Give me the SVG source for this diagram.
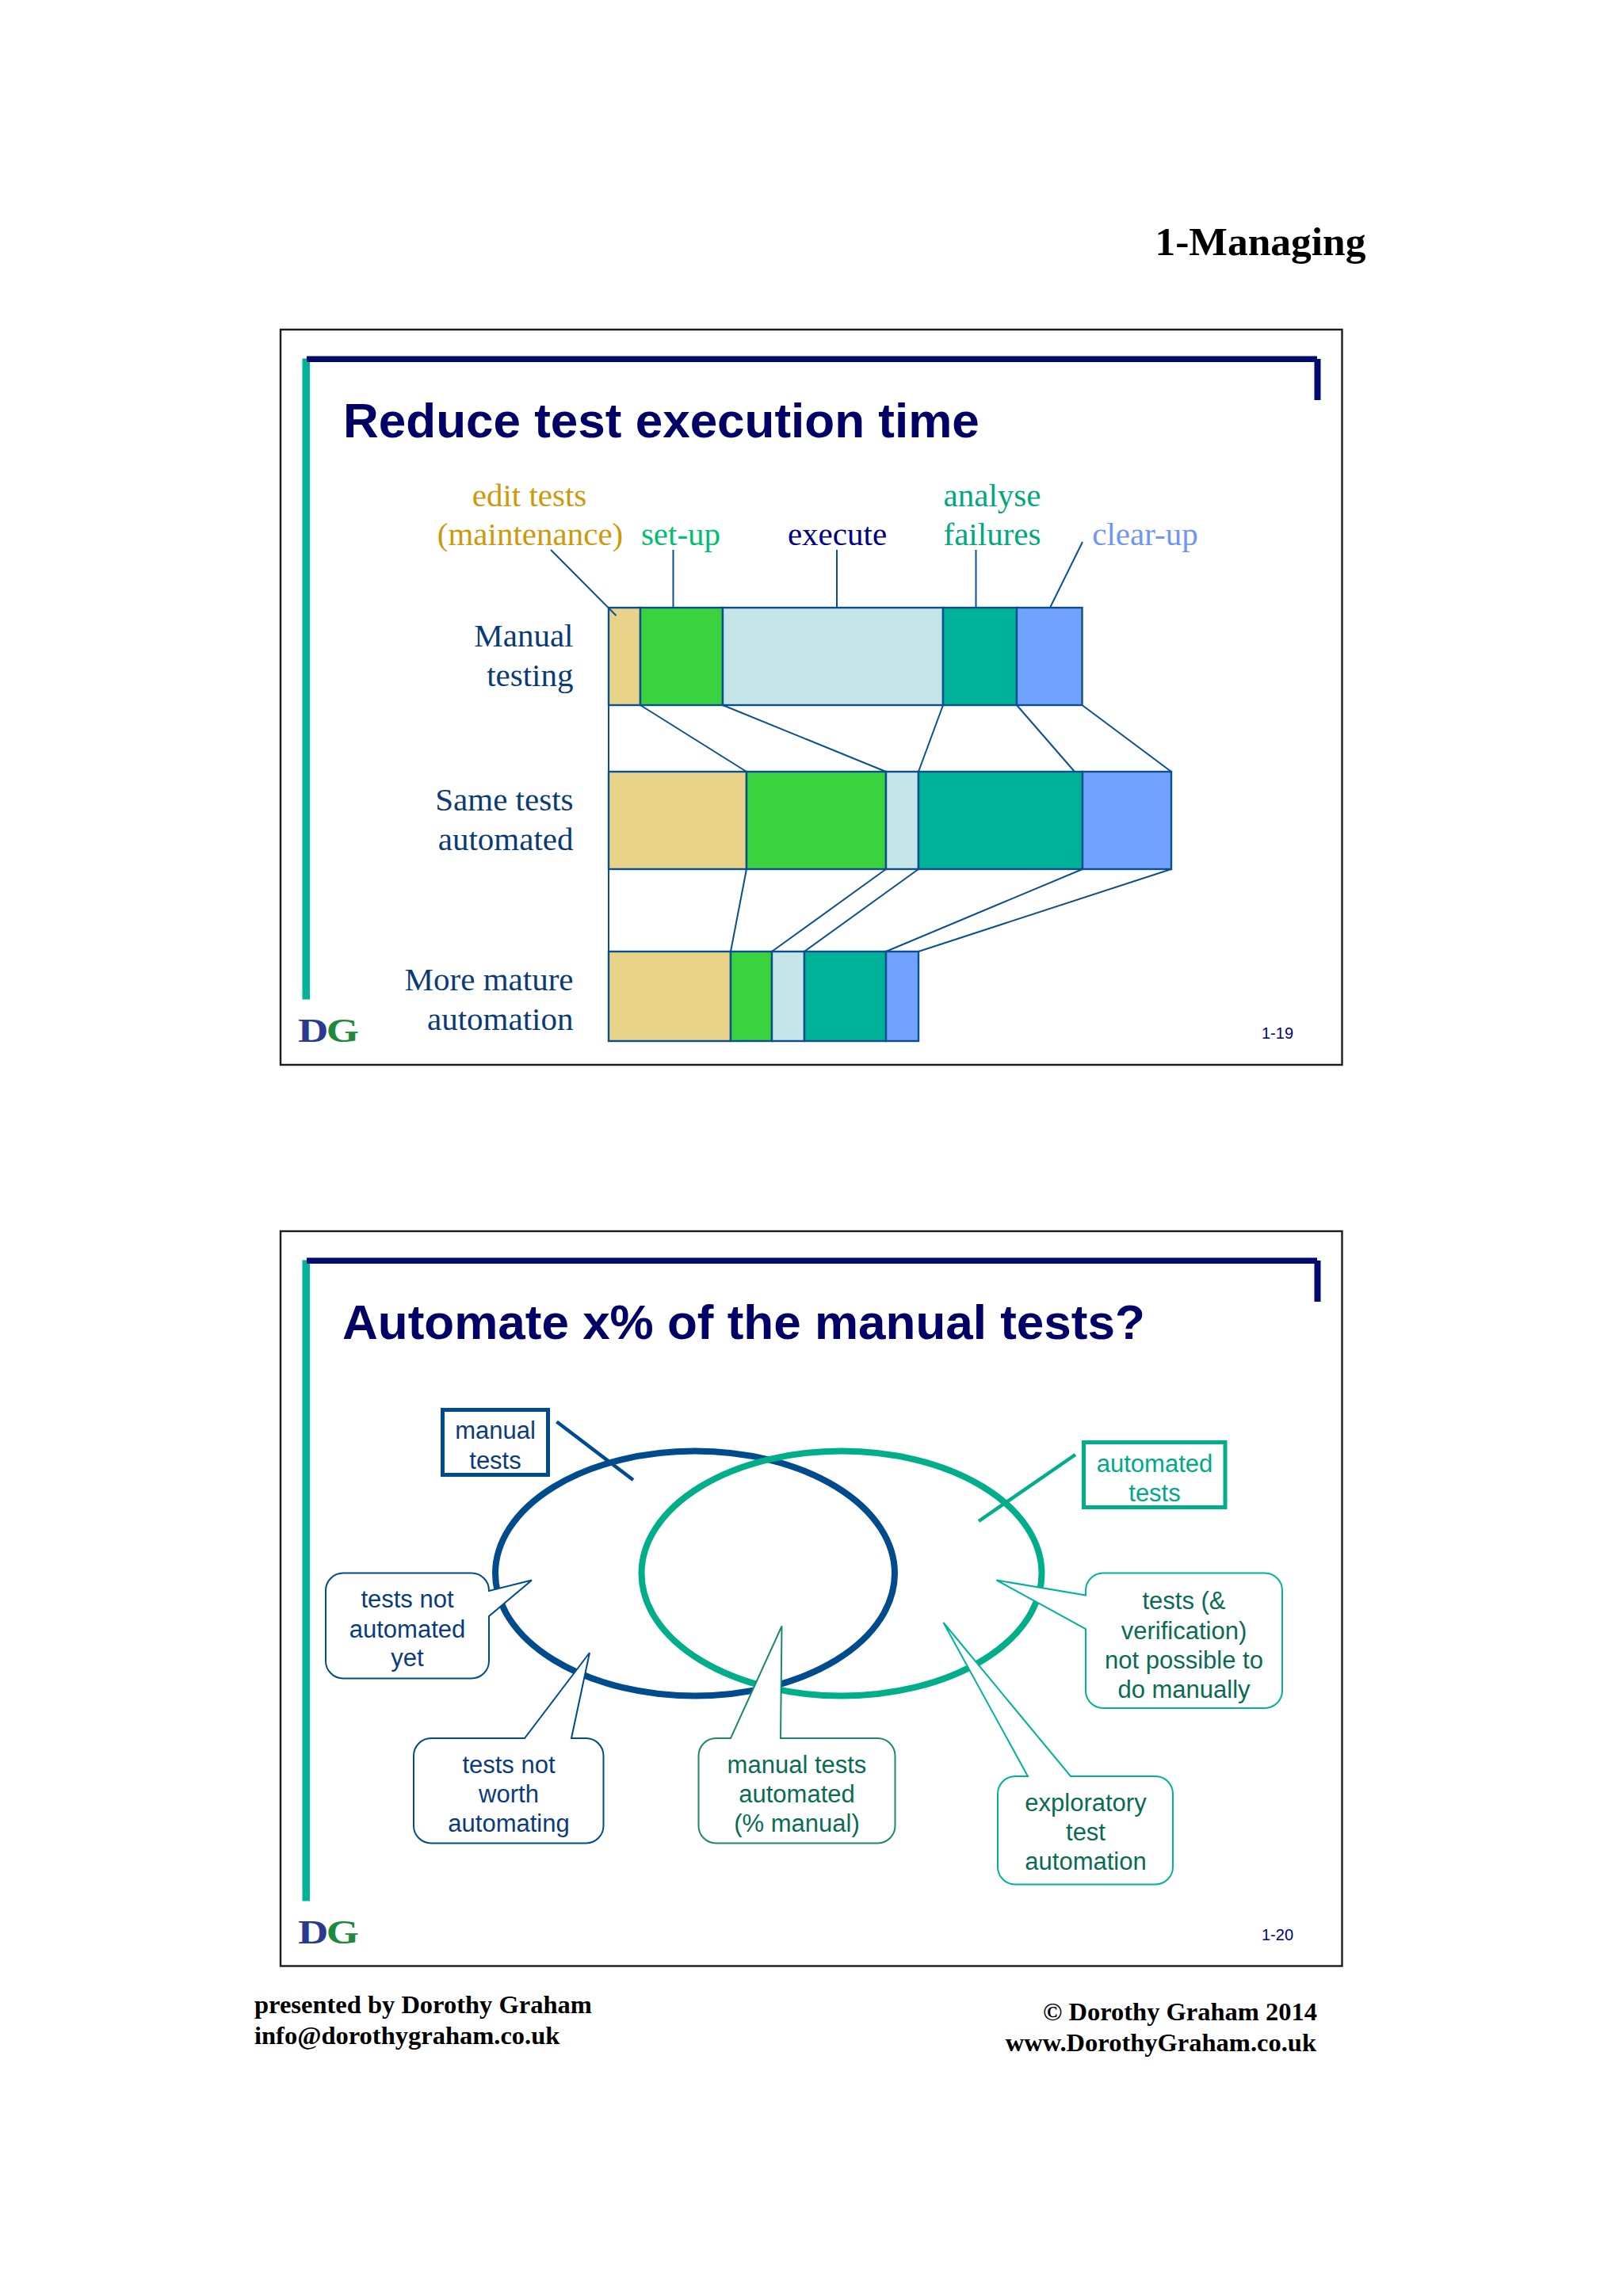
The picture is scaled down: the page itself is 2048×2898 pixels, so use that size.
<svg xmlns="http://www.w3.org/2000/svg" width="2048" height="2898" viewBox="0 0 2048 2898">
<style>
.frame{fill:#fff;stroke:#1c1c1c;stroke-width:2.4}
.teal{fill:#00b398}.navy{fill:#000a70}
.title{font:bold 62px "Liberation Sans",Arial,sans-serif;fill:#000066}
.t{font-family:"Liberation Serif","Times New Roman",serif;font-size:41px}
.lab{fill:#0b3b75;text-anchor:end}
.foot{font:bold 32.5px "Liberation Serif","Times New Roman",serif;fill:#000}
.dg{font:bold 42px "Liberation Serif","Times New Roman",serif}
.num{font:20px "Liberation Sans",Arial,sans-serif;fill:#000080}
.bar{stroke:#0a4f90;stroke-width:2.4}
.c1{fill:#e8d388}.c2{fill:#3ad33f}.c3{fill:#c5e4e7}.c4{fill:#00b398}.c5{fill:#72a2ff}
.conn line{stroke:#0a4f90;stroke-width:2}
.s{font:31px "Liberation Sans",Arial,sans-serif;text-anchor:middle}
.sb{fill:#0b3b7c}.sg{fill:#0a6b55}.st{fill:#00a88a}
.co{fill:#fff;stroke-width:2}
.cob{stroke:#004b8d}.cog{stroke:#1a8a6a}.cot{stroke:#00b398}
</style>
<text x="1723.500" y="322" text-anchor="end" style="font:bold 51.500px 'Liberation Serif','Times New Roman',serif;fill:#000">1-Managing</text>

<g id="slide1">
<rect class="frame" x="354" y="416" width="1339.500" height="928"/>
<rect class="teal" x="381.500" y="452.500" width="9.500" height="809"/>
<rect class="navy" x="387" y="449.500" width="1275" height="7.500"/>
<rect class="navy" x="1658.500" y="453" width="8" height="52"/>
<text class="title" x="433" y="551.500">Reduce test execution time</text>

<g id="legend-labels">
<text class="t" x="668" y="639" text-anchor="middle" fill="#cc9a0a">edit tests</text>
<text class="t" x="669" y="688" text-anchor="middle" fill="#cc9a0a">(maintenance)</text>
<text class="t" x="859" y="688" text-anchor="middle" fill="#00c070">set-up</text>
<text class="t" x="1056.500" y="688" text-anchor="middle" fill="#000080">execute</text>
<text class="t" x="1252" y="639" text-anchor="middle" fill="#00a880">analyse</text>
<text class="t" x="1252" y="688" text-anchor="middle" fill="#00a880">failures</text>
<text class="t" x="1445" y="688" text-anchor="middle" fill="#6e96f5">clear-up</text>
</g>
<g id="row-labels">
<text class="t lab" x="723.500" y="816">Manual</text>
<text class="t lab" x="723.500" y="866">testing</text>
<text class="t lab" x="723.500" y="1023">Same tests</text>
<text class="t lab" x="723.500" y="1073">automated</text>
<text class="t lab" x="723.500" y="1250">More mature</text>
<text class="t lab" x="723.500" y="1300">automation</text>
</g>

<g id="row-manual" class="bar">
<rect class="c1" x="768" y="767" width="40" height="123"/>
<rect class="c2" x="808" y="767" width="104" height="123"/>
<rect class="c3" x="912" y="767" width="278" height="123"/>
<rect class="c4" x="1190" y="767" width="93" height="123"/>
<rect class="c5" x="1283" y="767" width="82.500" height="123"/>
</g>
<g id="row-automated" class="bar">
<rect class="c1" x="768" y="974" width="174" height="123"/>
<rect class="c2" x="942" y="974" width="176" height="123"/>
<rect class="c3" x="1118" y="974" width="41" height="123"/>
<rect class="c4" x="1159" y="974" width="207" height="123"/>
<rect class="c5" x="1366" y="974" width="112" height="123"/>
</g>
<g id="row-mature" class="bar">
<rect class="c1" x="768" y="1201" width="154" height="113"/>
<rect class="c2" x="922" y="1201" width="52" height="113"/>
<rect class="c3" x="974" y="1201" width="41" height="113"/>
<rect class="c4" x="1015" y="1201" width="103" height="113"/>
<rect class="c5" x="1118" y="1201" width="41" height="113"/>
</g>
<g id="connectors-1" class="conn">
<line x1="695" y1="694" x2="777.500" y2="777"/>
<line x1="849.500" y1="694" x2="849.500" y2="767"/>
<line x1="1056" y1="694" x2="1056" y2="767"/>
<line x1="1231.500" y1="694" x2="1231.500" y2="767"/>
<line x1="1366" y1="684" x2="1325" y2="767"/>
<line x1="768" y1="890" x2="768" y2="974"/>
<line x1="808" y1="890" x2="942" y2="974"/>
<line x1="912" y1="890" x2="1118" y2="974"/>
<line x1="1190" y1="890" x2="1159" y2="974"/>
<line x1="1283" y1="890" x2="1356" y2="974"/>
<line x1="1365.500" y1="890" x2="1478" y2="974"/>
<line x1="768" y1="1097" x2="768" y2="1201"/>
<line x1="942" y1="1097" x2="922" y2="1201"/>
<line x1="1118" y1="1097" x2="974" y2="1201"/>
<line x1="1159" y1="1097" x2="1015" y2="1201"/>
<line x1="1366" y1="1097" x2="1118" y2="1201"/>
<line x1="1478" y1="1097" x2="1159" y2="1201"/>
</g>
<text class="dg" x="376" y="1315" textLength="77" lengthAdjust="spacingAndGlyphs"><tspan fill="#2a3a90">D</tspan><tspan fill="#1f8a3c" dx="-2">G</tspan></text>
<text class="num" x="1592" y="1311">1-19</text>
</g>

<g id="slide2">
<rect class="frame" x="354" y="1554" width="1339.500" height="927.500"/>
<rect class="teal" x="381.500" y="1590.500" width="9.500" height="809"/>
<rect class="navy" x="387" y="1587.500" width="1275" height="7.500"/>
<rect class="navy" x="1658.500" y="1591" width="8" height="52"/>
<text class="title" x="432" y="1689.500">Automate x% of the manual tests?</text>

<g id="sets">
<ellipse cx="877" cy="1986" rx="252" ry="154.500" fill="none" stroke="#004b8d" stroke-width="8"/>
<ellipse cx="1062" cy="1986" rx="252.500" ry="154.500" fill="none" stroke="#00ae8a" stroke-width="8"/>
</g>

<g id="node-manual-tests">
<rect x="558.500" y="1779.500" width="133" height="82" fill="#fff" stroke="#004b8d" stroke-width="5"/>
<text class="s sb" x="625" y="1816">manual</text>
<text class="s sb" x="625" y="1854">tests</text>
</g>
<g id="node-automated-tests">
<rect x="1367.500" y="1820.500" width="178.500" height="82" fill="#fff" stroke="#00ae8a" stroke-width="5"/>
<text class="s st" x="1457" y="1857.500">automated</text>
<text class="s st" x="1457" y="1895">tests</text>
</g>
<g id="connectors-2" fill="none" stroke-width="4.500">
<line x1="702.500" y1="1794.500" x2="799" y2="1868" stroke="#004b8d"/>
<line x1="1357" y1="1836" x2="1235" y2="1920" stroke="#00ae8a"/>
</g>

<g id="node-not-yet">
<path class="co cob" d="M433 1985.500H595a22 22 0 0 1 22 22V2008L671 1994.500L617 2040V2096.500a22 22 0 0 1 -22 22H433a22 22 0 0 1 -22 -22V2007.500a22 22 0 0 1 22 -22Z"/>
<text class="s sb" x="514" y="2029">tests not</text>
<text class="s sb" x="514" y="2067">automated</text>
<text class="s sb" x="514" y="2103">yet</text>
</g>
<g id="node-not-worth">
<path class="co cob" d="M544 2194H662L744 2086L721 2194H739.500a22 22 0 0 1 22 22V2304.500a22 22 0 0 1 -22 22H544a22 22 0 0 1 -22 -22V2216a22 22 0 0 1 22 -22Z"/>
<text class="s sb" x="642" y="2237.500">tests not</text>
<text class="s sb" x="642" y="2275">worth</text>
<text class="s sb" x="642" y="2311.500">automating</text>
</g>
<g id="node-percent">
<path class="co cog" d="M903.500 2194H922L986.500 2052.500L985 2194H1107.500a22 22 0 0 1 22 22V2304.500a22 22 0 0 1 -22 22H903.500a22 22 0 0 1 -22 -22V2216a22 22 0 0 1 22 -22Z"/>
<text class="s sg" x="1005.500" y="2237.500">manual tests</text>
<text class="s sg" x="1005.500" y="2275">automated</text>
<text class="s sg" x="1005.500" y="2311.500">(% manual)</text>
</g>
<g id="node-not-manual">
<path class="co cot" d="M1392 1985.500H1596a22 22 0 0 1 22 22V2134a22 22 0 0 1 -22 22H1392a22 22 0 0 1 -22 -22V2056L1257.500 1994.500L1370 2013.500V2007.500a22 22 0 0 1 22 -22Z"/>
<text class="s sg" x="1494" y="2031">tests (&amp;</text>
<text class="s sg" x="1494" y="2069">verification)</text>
<text class="s sg" x="1494" y="2106">not possible to</text>
<text class="s sg" x="1494" y="2143">do manually</text>
</g>
<g id="node-exploratory">
<path class="co cot" d="M1281 2242H1297L1190.500 2048L1351 2242H1458a22 22 0 0 1 22 22V2356.500a22 22 0 0 1 -22 22H1281a22 22 0 0 1 -22 -22V2264a22 22 0 0 1 22 -22Z"/>
<text class="s sg" x="1370" y="2285.500">exploratory</text>
<text class="s sg" x="1370" y="2322.500">test</text>
<text class="s sg" x="1370" y="2359.500">automation</text>
</g>
<text class="dg" x="376" y="2453" textLength="77" lengthAdjust="spacingAndGlyphs"><tspan fill="#2a3a90">D</tspan><tspan fill="#1f8a3c" dx="-2">G</tspan></text>
<text class="num" x="1592" y="2449">1-20</text>
</g>

<g id="footer">
<text class="foot" x="321" y="2540.500">presented by Dorothy Graham</text>
<text class="foot" x="321" y="2579.500">info@dorothygraham.co.uk</text>
<text class="foot" x="1662" y="2550" text-anchor="end">© Dorothy Graham 2014</text>
<text class="foot" x="1661" y="2589" text-anchor="end">www.DorothyGraham.co.uk</text>
</g>
</svg>
